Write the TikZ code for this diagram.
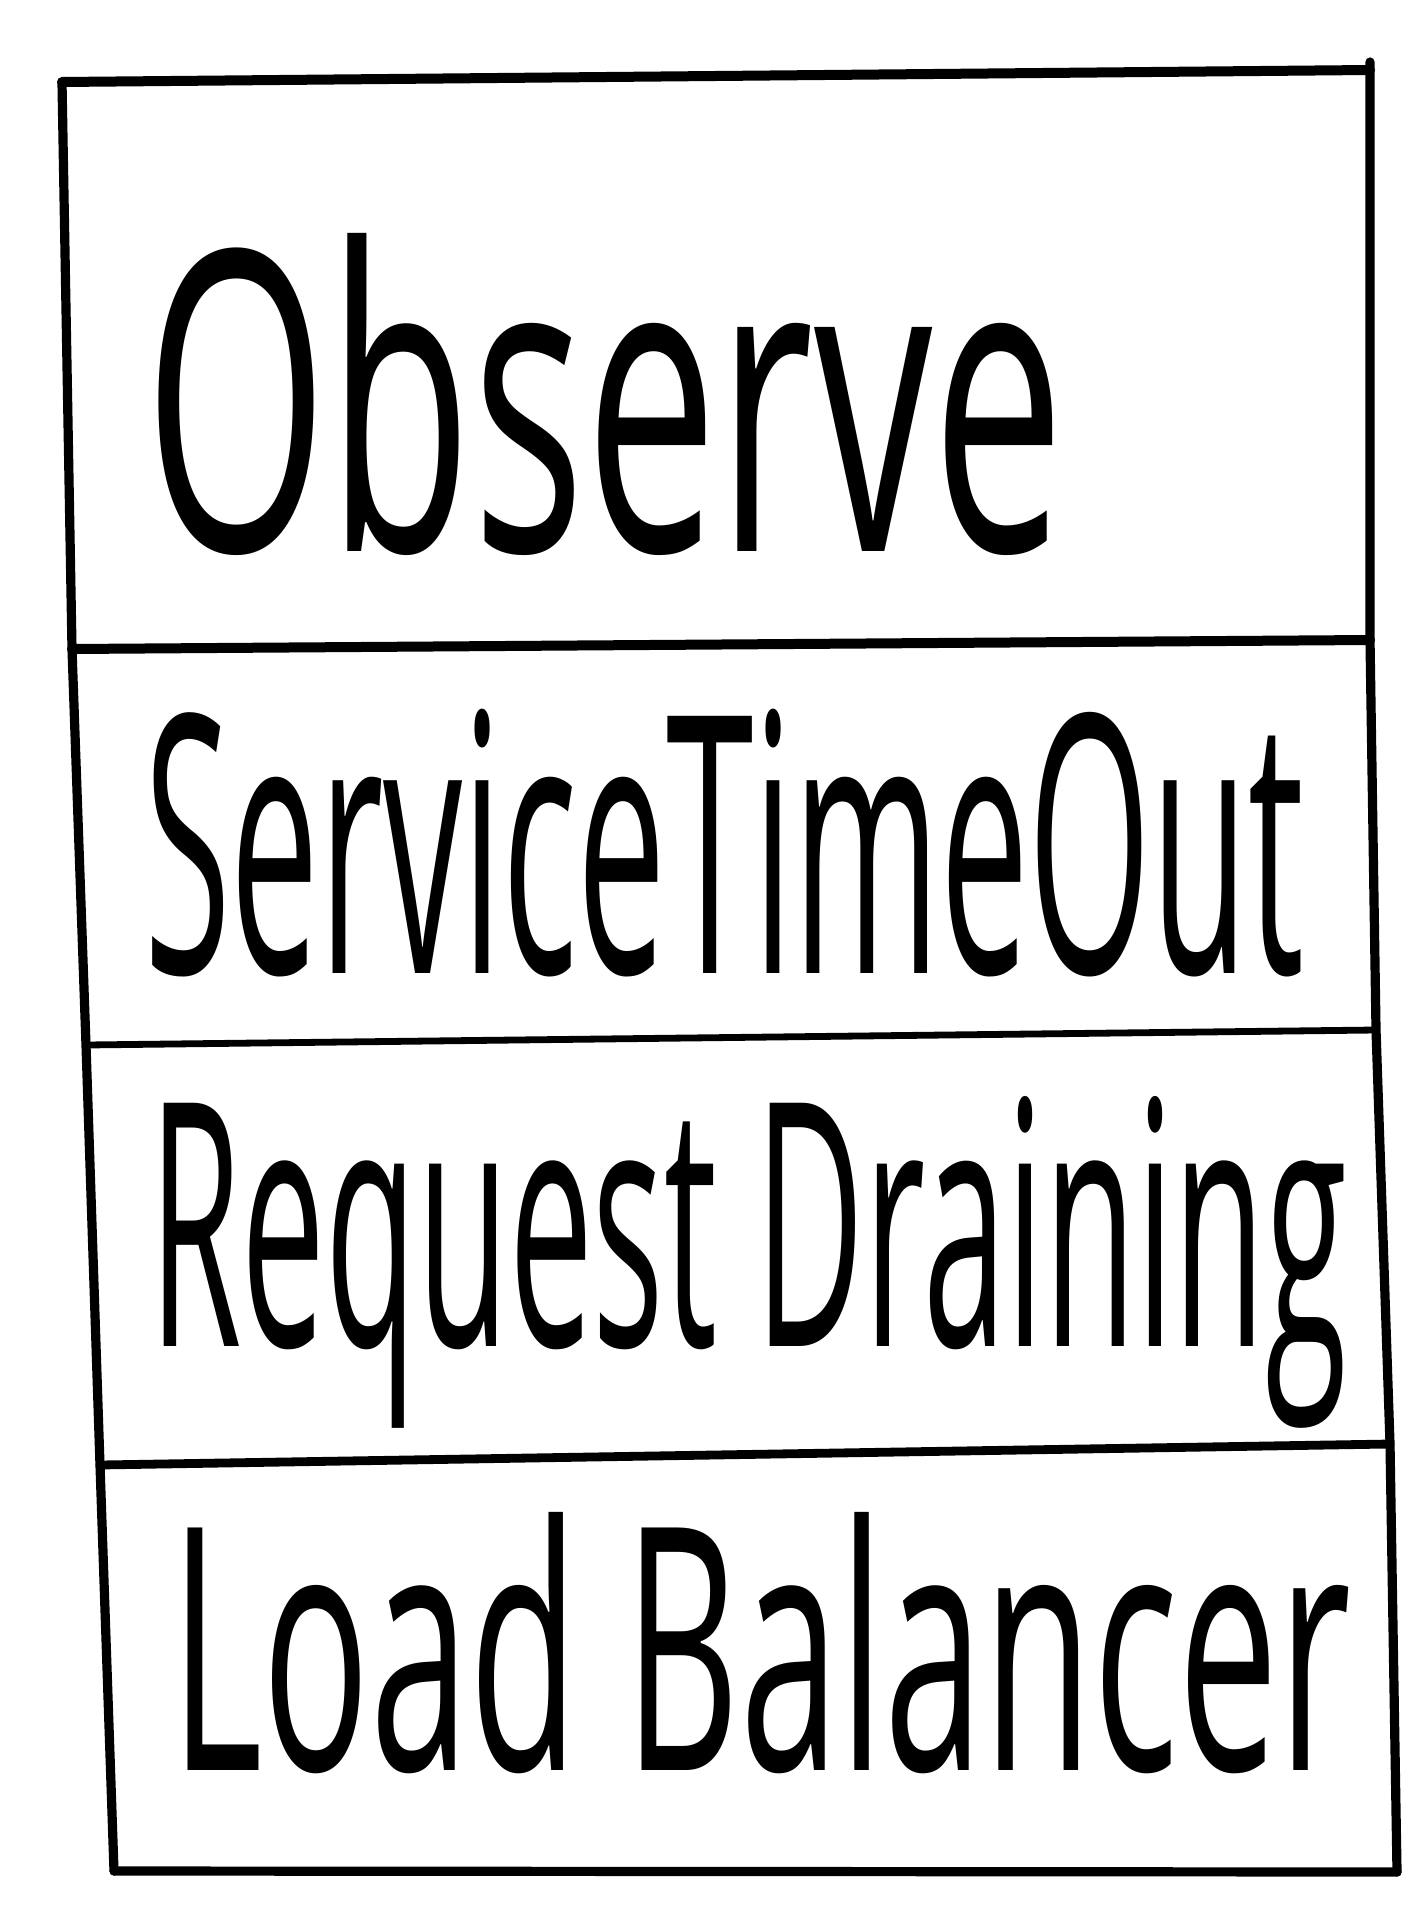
\documentclass[tikz,border=0pt]{standalone}
\usepackage{fontspec}
\setmainfont{Open Sans}
\usepackage{graphicx}
\tikzset{
  frame/.style={draw=black, line width=4.6pt, line cap=round, line join=round},
  label/.style={anchor=base west, inner sep=0pt, outer sep=0pt, text=black}
}
\begin{document}
\begin{tikzpicture}[x=0.5pt,y=-0.5pt]
\useasboundingbox (0,0) rectangle (1424,1920);
\fill[white] (0,0) rectangle (1424,1920);
% corner and divider points
\coordinate (TL) at (62,82);
\coordinate (TR) at (1370,70);
\coordinate (TRup) at (1370,62);
\coordinate (D1L) at (72,649);
\coordinate (D1R) at (1370,640);
\coordinate (D2L) at (86,1045);
\coordinate (D2R) at (1376,1030);
\coordinate (D3L) at (100,1465);
\coordinate (D3R) at (1390,1444);
\coordinate (BL) at (114,1871);
\coordinate (BR) at (1397,1872);
% outer frame
\draw[frame, line width=5pt] (TL) -- (TR);
\draw[frame] (TL) -- (D1L) -- (D2L) -- (D3L) -- (BL);
\draw[frame] (TRup) -- (TR) -- (D1R) -- (D2R) -- (D3R) -- (BR);
\draw[frame] (BL) -- (BR);
% dividers
\draw[frame, line width=5pt] (D1L) -- (D1R);
\draw[frame, line width=3.4pt] (D2L) -- (D2R);
\draw[frame, line width=4.4pt] (D3L) -- (D3R);
% texts
\node[label] (obs) at (144,551) {\resizebox{460pt}{159pt}{Observe}};
\node[label] (sto) at (144,973) {\resizebox{580pt}{132pt}{ServiceTimeOut}};
\node[label] (rd) at (149,1346) {\resizebox{599pt}{125pt}{Request Draining}};
\node[label] (lb) at (170,1770) {\resizebox{590pt}{129pt}{Load Balancer}};
\end{tikzpicture}
\end{document}
